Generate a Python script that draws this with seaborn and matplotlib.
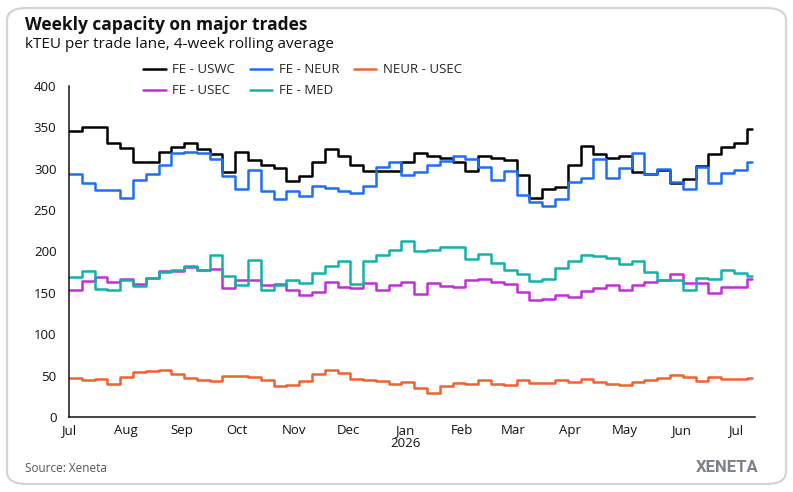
import numpy as np
import pandas as pd
import seaborn as sns
import matplotlib.pyplot as plt
import matplotlib.dates as mdates
from matplotlib.patches import FancyBboxPatch
from matplotlib.lines import Line2D

# weekly values, first week starts 2025-07-01
fe_uswc = [346, 350, 350, 331, 325, 308, 308, 320, 326, 331,
           324, 318, 296, 320, 311, 304, 301, 285, 291, 308,
           324, 316, 304, 297, 297, 297, 308,
           319, 316, 313, 308, 297, 315, 313, 311, 293, 265,
           275, 278, 305, 328, 318, 313, 316, 296, 294, 299,
           283, 288, 303, 318, 326, 331, 348]
fe_neur = [294, 283, 274, 274, 265, 286, 294, 304, 319, 320,
           319, 312, 291, 276, 298, 273, 264, 273, 267, 279,
           277, 273, 271, 279, 302, 308, 293,
           296, 304, 309, 316, 312, 302, 287, 297, 268, 260,
           255, 263, 284, 289, 312, 289, 301, 319, 294, 300,
           284, 275, 302, 283, 295, 298, 308]
neur_usec = [47, 45, 46, 40, 48, 54, 55.5, 57, 52, 47,
             45, 44, 49, 49, 48, 44.5, 38, 39, 44, 52,
             57, 53, 46, 45, 44, 40, 42,
             35.5, 29, 37, 41, 40, 44.5, 40, 38.5, 44.5, 41,
             41, 44.5, 42.5, 46, 42.5, 40, 38.5, 42.5, 45, 47.5,
             50.5, 48, 44, 48.5, 46.5, 46.5, 47.5]
fe_usec = [153, 164, 169, 163, 167, 161, 168, 176, 177, 181,
           178, 179, 155.5, 166, 166, 159.5, 161, 153, 147, 150.5,
           163, 157.5, 155.5, 162, 153, 160, 163,
           148.5, 161.5, 158, 157, 166, 167, 163, 161, 150.5, 141.5,
           143, 147.5, 145.5, 152.5, 156, 159, 154, 160, 163.5, 165,
           172.5, 161.5, 161.5, 150, 156.5, 156.5, 167]
fe_med = [169, 176, 155, 154, 166, 158, 168, 175, 178, 182,
          178, 195.5, 170, 159, 190, 154, 159, 166, 161.5, 173.5,
          182, 188, 160.5, 188, 195.5, 201.5, 212.5,
          200.5, 201.5, 205.5, 205.5, 191.5, 197.5, 186, 177.5, 173, 164,
          167, 180, 188, 195.5, 194.5, 192, 184.5, 189, 175.5, 165,
          165, 153, 168, 167, 177.5, 173.5, 170]

lanes = ["FE - USWC", "FE - NEUR", "NEUR - USEC", "FE - USEC", "FE - MED"]
colors = ["#000000", "#1f6ff2", "#f0632f", "#c22fd8", "#10b4a6"]
month_labels = ["Jul", "Aug", "Sep", "Oct", "Nov", "Dec", "Jan\n2026",
                "Feb", "Mar", "Apr", "May", "Jun", "Jul"]

weeks = pd.date_range("2025-07-01", periods=len(fe_uswc), freq="7D")
end_day = pd.Timestamp("2026-07-10")

rows = []
for lane, vals in zip(lanes, [fe_uswc, fe_neur, neur_usec, fe_usec, fe_med]):
    d = list(weeks) + [end_day]
    v = list(vals) + [vals[-1]]   # close the last step
    rows.append(pd.DataFrame({"date": d, "kteu": v, "lane": lane}))
df = pd.concat(rows, ignore_index=True)

sns.set_style("white")
plt.rcParams["font.family"] = ["Open Sans", "DejaVu Sans"]

fig = plt.figure(figsize=(7.93, 4.92), dpi=100)

# card border
card = FancyBboxPatch((7 / 793, 8 / 492), 779 / 793, 476 / 492,
                      boxstyle="round,pad=0,rounding_size=0.025",
                      transform=fig.transFigure, facecolor="white",
                      edgecolor="#d4d4d4", linewidth=1.6, zorder=0)
fig.patches.append(card)

# light gradient panel behind the chart
bg = fig.add_axes([27 / 793, 1 - 452 / 492, (760 - 27) / 793, (452 - 63) / 492], zorder=0)
gx, gy = np.meshgrid(np.linspace(0, 1, 200), np.linspace(0, 1, 100))
grad = 0.6 * gx + 0.4 * gy
c0 = np.array([0.973, 0.980, 0.992])
c1 = np.array([0.929, 0.953, 0.980])
img = c0[None, None, :] * (1 - grad[..., None]) + c1[None, None, :] * grad[..., None]
bg.imshow(img, aspect="auto", origin="upper")
bg.axis("off")

ax = fig.add_axes([69 / 793, 1 - 417 / 492, (755 - 69) / 793, (417 - 86) / 492], zorder=1)
ax.patch.set_alpha(0)

sns.lineplot(data=df, x="date", y="kteu", hue="lane", hue_order=lanes,
             palette=colors, drawstyle="steps-post", linewidth=1.8,
             legend=False, ax=ax)

ax.set_xlim(pd.Timestamp("2025-07-01"), pd.Timestamp("2026-07-11 12:00"))
ax.set_ylim(0, 400)
ax.set_yticks(range(0, 401, 50))
ax.xaxis.set_major_locator(mdates.MonthLocator())
ax.set_xticks(ax.get_xticks())
ax.set_xticklabels(month_labels)
ax.set_xlabel("")
ax.set_ylabel("")
ax.tick_params(axis="y", length=4, width=1, color="#111111", labelsize=9.5,
               labelcolor="#111111", pad=5)
ax.tick_params(axis="x", length=0, labelsize=9.5, labelcolor="#111111", pad=5)
for s in ["top", "right"]:
    ax.spines[s].set_visible(False)
for s in ["left", "bottom"]:
    ax.spines[s].set_color("#111111")
    ax.spines[s].set_linewidth(1.1)
for lbl in ax.get_xticklabels():
    lbl.set_linespacing(1.0)

# legend: USWC/USEC, NEUR/MED, NEUR-USEC columns
order = [0, 3, 1, 4, 2]
handles = [Line2D([], [], color=colors[i], linewidth=1.8) for i in order]
fig.legend(handles, [lanes[i] for i in order], ncol=3, frameon=False,
           loc="upper left", bbox_to_anchor=(138 / 793, 1 - 58 / 492),
           fontsize=9.5, handlelength=1.7, handletextpad=0.5,
           columnspacing=1.1, labelspacing=0.6, borderaxespad=0)

fig.text(25 / 793, 1 - 25 / 492, "Weekly capacity on major trades",
         fontsize=12.5, fontweight="bold", color="#111111", va="center")
fig.text(25 / 793, 1 - 45 / 492, "kTEU per trade lane, 4-week rolling average",
         fontsize=11, color="#111111", va="center")
fig.text(25 / 793, 1 - 468 / 492, "Source: Xeneta", fontsize=8.5,
         color="#555555", va="center")
fig.text(759 / 793, 1 - 467 / 492, "XENETA", fontsize=12, fontweight="bold",
         color="#7b8089", va="center", ha="right", family=["Roboto", "DejaVu Sans"])

fig.savefig("out.png", dpi=100)
